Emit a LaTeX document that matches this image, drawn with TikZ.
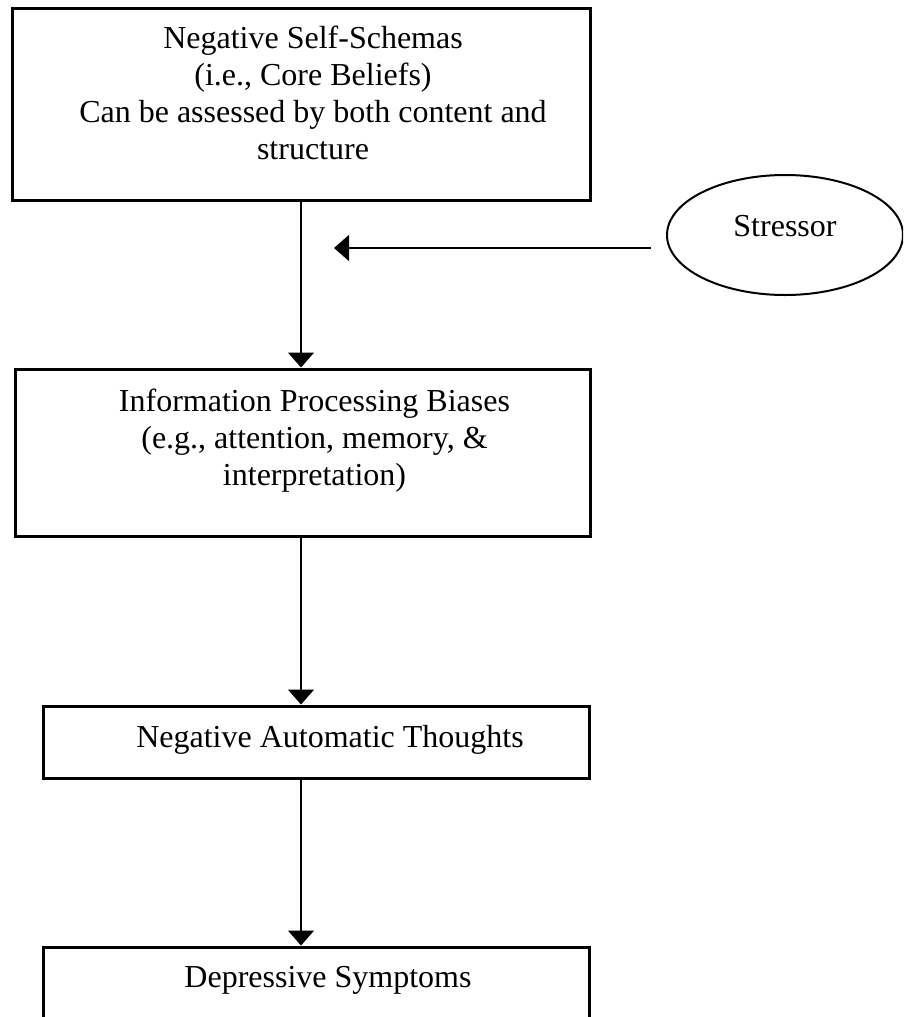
\documentclass[tikz,border=0pt]{standalone}
\usepackage{fontspec}
\setmainfont{Liberation Serif}
\usetikzlibrary{shapes}
\usetikzlibrary{positioning}
\usetikzlibrary{arrows.meta}
\tikzset{
    stage/.style = {rectangle, draw=black, line width=3pt},
    stagetxt/.style = {align=center, inner sep=0pt, font=\fontsize{32}{37}\selectfont},
    stressnode/.style = {ellipse, draw=black, line width=2pt, minimum width=236pt, minimum height=120pt, text depth=18pt, font=\fontsize{32}{37}\selectfont},
    edgen/.style = {-{Triangle[width=26pt,length=15pt]}, line width=1.4pt}, % downward
}

\begin{document}
\begin{tikzpicture}[x=1pt,y=-1pt]
\clip[use as bounding box] (0,0) rectangle (903,1017);
%
\node[stage, minimum width=578pt, minimum height=192pt] at (301,104) (schema) {};
\node[stage, minimum width=575pt, minimum height=167pt] at (302.5,452.5) (bias) {};
\node[stage, minimum width=546pt, minimum height=72pt] at (316,742) (auto) {};
\node[stage, minimum width=546pt, minimum height=110pt] at (316,1002) (symp) {};
\node[stressnode] at (785,235) (stressor) {Stressor};
%
\node[stagetxt, below=19pt of schema.north, xshift=12pt] (schematxt) {Negative Self-Schemas\\(i.e., Core Beliefs)\\Can be assessed by both content and\\structure};
\node[stagetxt, below=21pt of bias.north, xshift=12pt] (biastxt) {Information Processing Biases\\(e.g., attention, memory, \&\\interpretation)};
\node[stagetxt, below=21pt of auto.north, xshift=14pt] (autotxt) {Negative Automatic Thoughts};
\node[stagetxt, below=21pt of symp.north, xshift=12pt] (symptxt) {Depressive Symptoms};
%
\coordinate (hit) at (334,248);
\draw[edgen] (schema.south) -- (bias.north -| schema.south);
\draw[edgen] (bias.south -| schema.south) -- (auto.north -| schema.south);
\draw[edgen] (auto.south -| schema.south) -- (symp.north -| schema.south);
\draw[edgen, shorten <=15pt] (stressor.west |- hit) -- (hit);

\end{tikzpicture}
\end{document}
